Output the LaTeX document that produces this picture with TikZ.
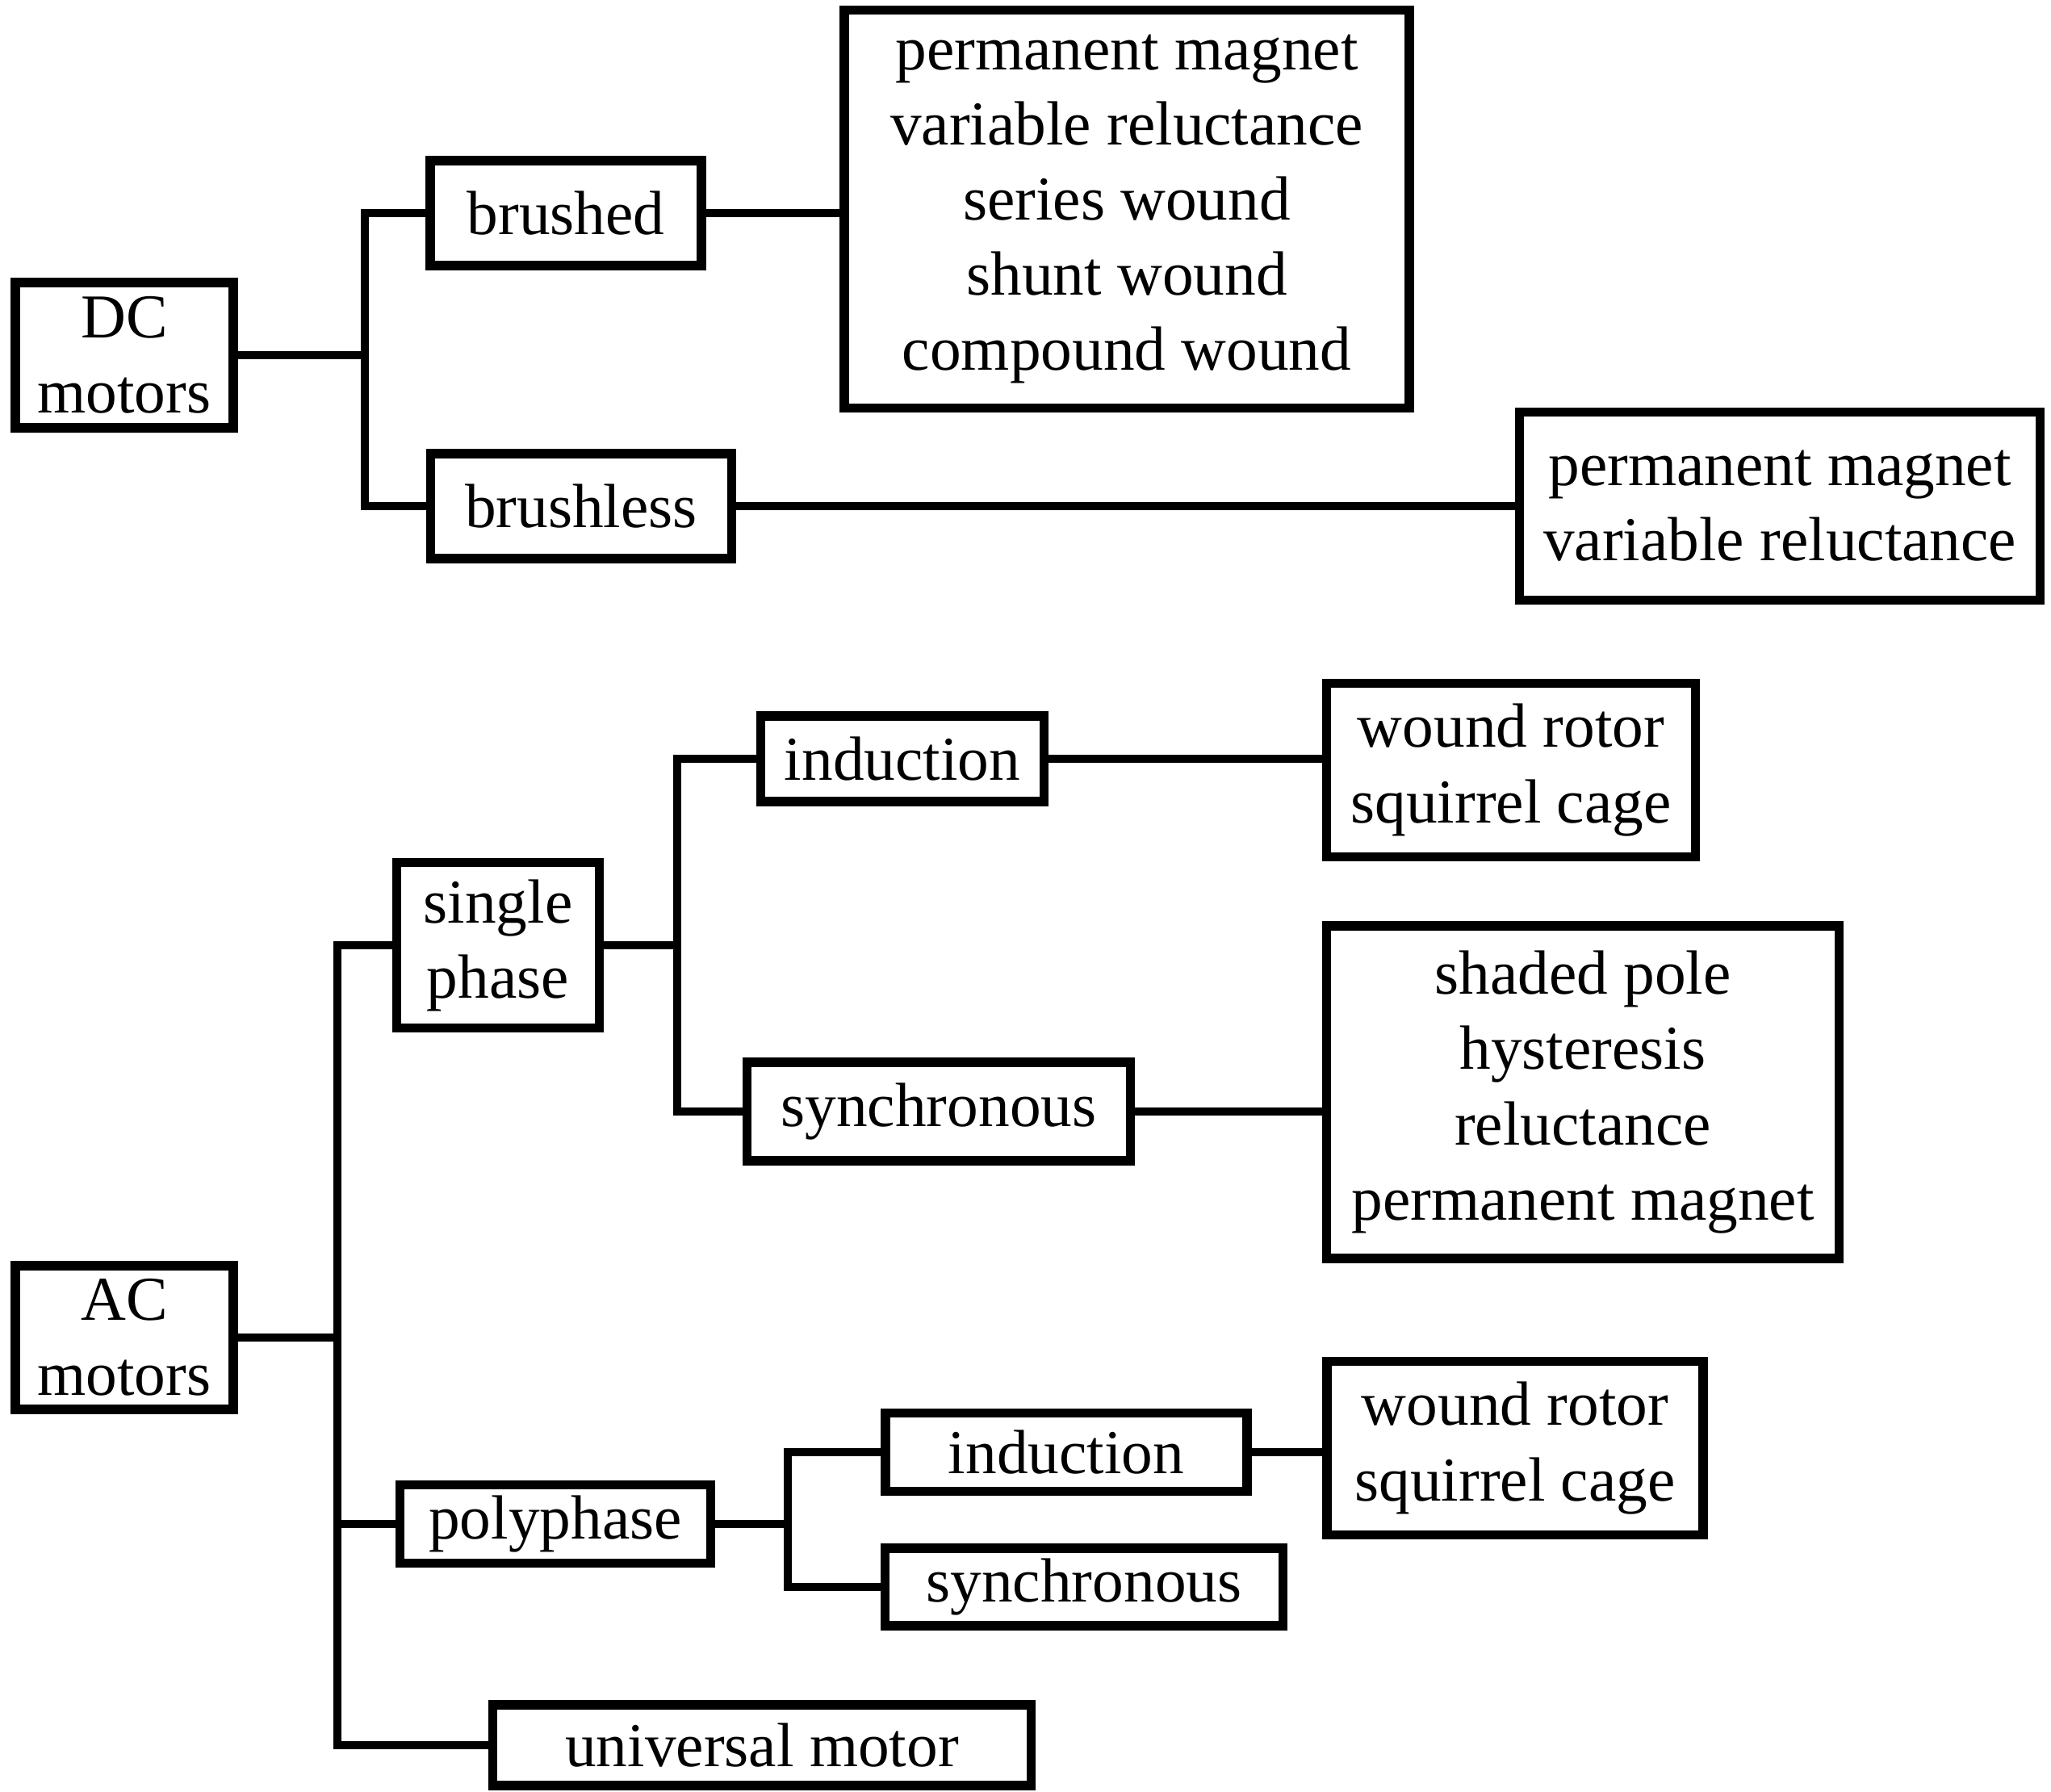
\documentclass[tikz,border=0pt]{standalone}
\usepackage{fontspec}
\setmainfont{Liberation Serif}
\usepackage{tikz}
\tikzset{
  mbox/.style={draw, line width=3.3pt, align=center, inner sep=0pt,
    font=\fontsize{22}{26.5}\selectfont},
  link/.style={line width=2.7pt, line join=miter, line cap=rect},
}
\begin{document}
\begin{tikzpicture}
\useasboundingbox (0,0) rectangle (25.41,-22.19);
% DC branch
\node[mbox, minimum width=2.70cm, minimum height=1.80cm] (dc) at (1.54,-4.40) {DC\\motors};
\node[mbox, minimum width=3.36cm, minimum height=1.30cm] (brushed) at (7.01,-2.64) {brushed};
\node[mbox, minimum width=3.73cm, minimum height=1.30cm] (brushless) at (7.20,-6.27) {brushless};
\node[mbox, minimum width=7.00cm, minimum height=4.93cm] (bdlist) at (13.96,-2.59)
  {permanent magnet\\variable reluctance\\series wound\\shunt wound\\compound wound};
\node[mbox, minimum width=6.45cm, minimum height=2.33cm] (bllist) at (22.05,-6.27)
  {permanent magnet\\variable reluctance};
\coordinate (dcfork) at (4.52,-4.40);
\draw[link] (dc.east) -- (dcfork);
\draw[link] (brushed.west) -| (dcfork) |- (brushless.west);
\draw[link] (brushed.east) -- (brushed.east -| bdlist.west);
\draw[link] (brushless.east) -- (bllist.west);
% AC branch
\node[mbox, minimum width=2.70cm, minimum height=1.78cm] (ac) at (1.54,-16.57) {AC\\motors};
\node[mbox, minimum width=2.51cm, minimum height=2.05cm] (single) at (6.17,-11.71) {single\\phase};
\node[mbox, minimum width=3.51cm, minimum height=1.06cm] (indone) at (11.18,-9.40) {induction};
\node[mbox, minimum width=4.75cm, minimum height=1.22cm] (synone) at (11.63,-13.77) {synchronous};
\node[mbox, minimum width=4.57cm, minimum height=2.15cm] (rotorone) at (18.72,-9.54)
  {wound rotor\\squirrel cage};
\node[mbox, minimum width=6.35cm, minimum height=4.12cm] (synlist) at (19.61,-13.53)
  {shaded pole\\hysteresis\\reluctance\\permanent magnet};
\node[mbox, minimum width=3.85cm, minimum height=0.97cm] (poly) at (6.88,-18.88) {polyphase};
\node[mbox, minimum width=4.48cm, minimum height=0.97cm] (indtwo) at (13.21,-17.99) {induction};
\node[mbox, minimum width=4.93cm, minimum height=0.96cm] (syntwo) at (13.43,-19.66) {synchronous};
\node[mbox, minimum width=4.66cm, minimum height=2.15cm] (rotortwo) at (18.77,-17.94)
  {wound rotor\\squirrel cage};
\node[mbox, minimum width=6.67cm, minimum height=1.00cm] (univ) at (9.44,-21.62) {universal motor};
\coordinate (acfork) at (4.18,-16.57);
\coordinate (spfork) at (8.39,-11.71);
\coordinate (ppfork) at (9.76,-18.88);
\draw[link] (ac.east) -- (acfork);
\draw[link] (single.west) -| (acfork) |- (univ.west);
\draw[link] (acfork) |- (poly.west);
\draw[link] (single.east) -- (spfork);
\draw[link] (indone.west) -| (spfork) |- (synone.west);
\draw[link] (indone.east) -- (indone.east -| rotorone.west);
\draw[link] (synone.east) -- (synone.east -| synlist.west);
\draw[link] (poly.east) -- (ppfork);
\draw[link] (indtwo.west) -| (ppfork) |- (syntwo.west);
\draw[link] (indtwo.east) -- (indtwo.east -| rotortwo.west);
\end{tikzpicture}
\end{document}
